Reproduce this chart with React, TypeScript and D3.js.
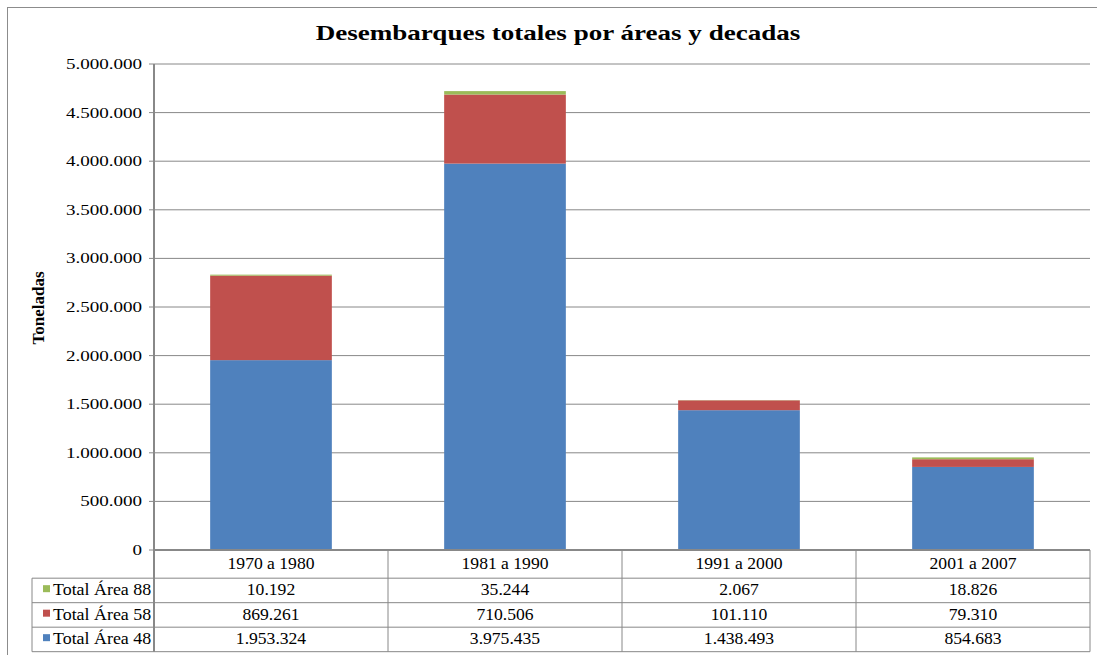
import React from "react";
import * as d3 from "d3";

const categories = ["1970 a 1980", "1981 a 1990", "1991 a 2000", "2001 a 2007"];
const area48 = [1953324, 3975435, 1438493, 854683];
const area58 = [869261, 710506, 101110, 79310];
const area88 = [10192, 35244, 2067, 18826];
const yTicks = [0, 500000, 1000000, 1500000, 2000000, 2500000, 3000000, 3500000, 4000000, 4500000, 5000000];

const seriesNames = ["Total Área 48", "Total Área 58", "Total Área 88"];
const seriesColors = ["#4F81BD", "#C0504D", "#9BBB59"];
const seriesValues = [area48, area58, area88];

const fmt = (v: number) => {
  if (v === 0) return "0";
  return d3.format(",")(v).replace(/,/g, ".");
};

function T({ x, y, sx = 1, anchor = "start", size = 15, bold = false, children }: any) {
  return (
    <text transform={`translate(${x},${y}) scale(${sx},1)`} textAnchor={anchor} fontSize={size} fontWeight={bold ? "bold" : "normal"} fill="#000">
      {children}
    </text>
  );
}

export default function App() {
  const W = 1097, H = 655;
  const left = 154, right = 1090, top = 64, bottom = 550;
  const x = d3.scaleBand<string>().domain(categories).range([left, right]).paddingInner(0.48).paddingOuter(0.24);
  const xc = d3.scaleBand<string>().domain(categories).range([left, right]);
  const y = d3.scaleLinear().domain([0, 5000000]).range([bottom, top]);

  const data = categories.map((c, i) => ({ c, a48: area48[i], a58: area58[i], a88: area88[i] }));
  const stack = d3.stack<any>().keys(["a48", "a58", "a88"])(data);

  const font = "'Liberation Serif', 'Times New Roman', serif";
  const rowH = 24.5;
  const tableTop = bottom;
  const legendLeft = 32;
  const rows = [2, 1, 0]; // 88, 58, 48
  const grid = "#888888";

  return (
    <svg width={W} height={H} style={{ position: "absolute", left: 0, top: 0 }} fontFamily={font}>
      <rect x={0} y={0} width={W} height={H} fill="#fff" />
      <rect x={7.5} y={7.5} width={W} height={H} fill="#fff" stroke="#8c8c8c" strokeWidth={1} />
      <T x={558} y={40} anchor="middle" size={22} bold sx={1.23}>
        Desembarques totales por áreas y decadas
      </T>
      {yTicks.map((t) => (
        <g key={t}>
          {t > 0 && <line x1={left} x2={right} y1={y(t)} y2={y(t)} stroke={grid} strokeWidth={1} />}
          <line x1={left - 5} x2={left} y1={y(t)} y2={y(t)} stroke={grid} />
          <T x={142} y={y(t) + 5} anchor="end" size={15} sx={1.27}>{fmt(t)}</T>
        </g>
      ))}
      <text transform={`translate(44,${(top + bottom) / 2 + 1}) rotate(-90)`} textAnchor="middle" fontSize={17} fontWeight="bold" fill="#000">
        Toneladas
      </text>
      {stack.map((s, si) => (
        <g key={si}>
          {s.map((d, i) => (
            <rect key={i} x={x(categories[i])} width={x.bandwidth()} y={y(d[1])} height={y(d[0]) - y(d[1])} fill={seriesColors[si]} />
          ))}
        </g>
      ))}
      <line x1={left} x2={left} y1={top} y2={bottom} stroke={grid} strokeWidth={2} />
      {/* table */}
      <g stroke={grid} strokeWidth={1} fill="none">
        <line x1={left} x2={right} y1={tableTop} y2={tableTop} strokeWidth={2} />
        {[1, 2, 3].map((r) => (
          <line key={r} x1={legendLeft} x2={right} y1={tableTop + (r + 0.15) * rowH} y2={tableTop + (r + 0.15) * rowH} />
        ))}
        <line x1={legendLeft} x2={right} y1={tableTop + 4.15 * rowH} y2={tableTop + 4.15 * rowH} />
        <line x1={legendLeft} x2={legendLeft} y1={tableTop + 1.15 * rowH} y2={tableTop + 4.15 * rowH} />
        {categories.map((c) => (
          <line key={c} x1={xc(c)} x2={xc(c)} y1={tableTop} y2={tableTop + 4.15 * rowH} strokeWidth={c === categories[0] ? 2 : 1} />
        ))}
        <line x1={right} x2={right} y1={tableTop} y2={tableTop + 4.15 * rowH} />
      </g>
      {categories.map((c) => (
        <T key={c} x={(xc(c) as number) + xc.bandwidth() / 2} y={tableTop + 19} anchor="middle" size={16} sx={1.1}>{c}</T>
      ))}
      {rows.map((si, r) => {
        const yRow = tableTop + (r + 1.15) * rowH;
        return (
          <g key={si}>
            <rect x={43} y={yRow + 7} width={7} height={7} fill={seriesColors[si]} />
            <T x={53} y={yRow + 17} size={16} sx={1.12}>{seriesNames[si]}</T>
            {categories.map((c, i) => (
              <T key={c} x={(xc(c) as number) + xc.bandwidth() / 2} y={yRow + 17} anchor="middle" size={16} sx={1.1}>
                {fmt(seriesValues[si][i])}
              </T>
            ))}
          </g>
        );
      })}
    </svg>
  );
}
